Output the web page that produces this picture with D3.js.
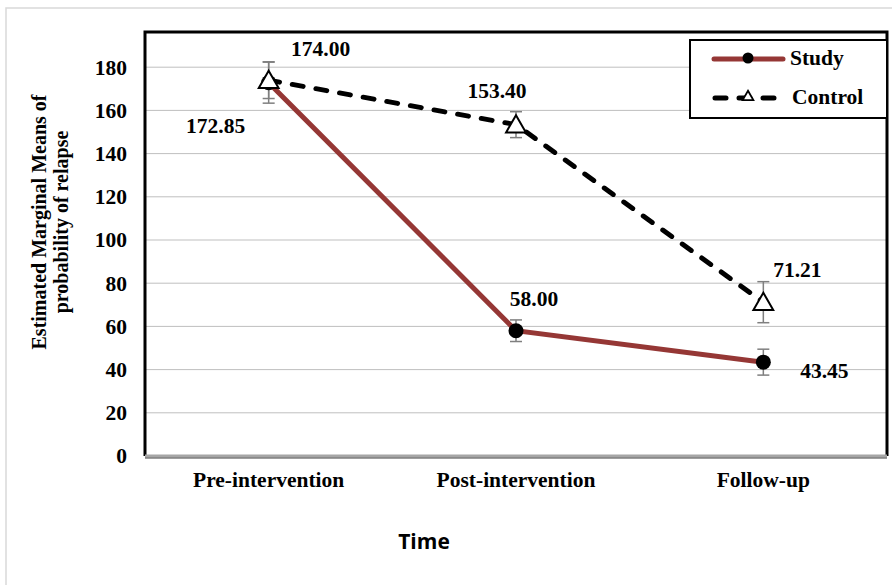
<!DOCTYPE html>
<html><head><meta charset="utf-8">
<script src="https://cdn.jsdelivr.net/npm/d3@7"></script>
<style>body{margin:0;background:#fff}svg{display:block}</style>
</head><body><svg id="c" width="892" height="585"></svg>
<script>
const categories = ["Pre-intervention", "Post-intervention", "Follow-up"];
const studyValues = [172.85, 58.00, 43.45];
const controlValues = [174.00, 153.40, 71.21];
const studyErr = [9.5, 5, 6];
const controlErr = [8.5, 6, 9.5];
const studyLabels = ["172.85", "58.00", "43.45"];
const controlLabels = ["174.00", "153.40", "71.21"];
const yTicks = [0, 20, 40, 60, 80, 100, 120, 140, 160, 180];

const svg = d3.select("#c");
const L = 145, R = 887, T = 32, B = 456;
const serif = "'Liberation Serif','Times New Roman',serif";
const FS = 21.5;

// outer frame
svg.append("path").attr("d", "M6,585 V8 H892").attr("fill", "none").attr("stroke", "#d9d9d9").attr("stroke-width", 1.5);

const x = d3.scaleBand().domain(categories).range([L, R]);
const cx = c => x(c) + x.bandwidth() / 2;
const y = d3.scaleLinear().domain([0, 180]).range([B, 67.2]);

// gridlines
svg.append("g").selectAll("line").data(yTicks.filter(d => d > 0)).join("line")
  .attr("x1", L).attr("x2", R).attr("y1", d => y(d)).attr("y2", d => y(d))
  .attr("stroke", "#bfbfbf").attr("stroke-width", 1);

// y axis labels
const yAxis = d3.axisLeft(y).tickValues(yTicks).tickSize(0).tickPadding(18).tickFormat(d3.format("d"));
const gy = svg.append("g").attr("transform", `translate(${L},0)`).call(yAxis);
gy.select(".domain").remove();
gy.selectAll("text").attr("font-family", serif).attr("font-weight", "bold").attr("font-size", FS).attr("fill", "#000");

// x axis labels
const xAxis = d3.axisBottom(x).tickSize(0).tickPadding(16);
const gx = svg.append("g").attr("transform", `translate(0,${B})`).call(xAxis);
gx.select(".domain").remove();
gx.selectAll("text").attr("font-family", serif).attr("font-weight", "bold").attr("font-size", FS).attr("fill", "#000");

// plot border
svg.append("path").attr("d", `M${L},${B} V${T} H${R} V${B}`).attr("fill", "none").attr("stroke", "#000").attr("stroke-width", 3);
svg.append("line").attr("x1", L).attr("x2", R).attr("y1", B).attr("y2", B).attr("stroke", "#a6a6a6").attr("stroke-width", 3);
svg.append("line").attr("x1", L).attr("x2", R).attr("y1", B + 2).attr("y2", B + 2).attr("stroke", "#404040").attr("stroke-width", 1);

// error bars
function errBars(vals, errs) {
  const g = svg.append("g").attr("stroke", "#7f7f7f").attr("stroke-width", 1.5);
  vals.forEach((v, i) => {
    const xx = cx(categories[i]);
    g.append("line").attr("x1", xx).attr("x2", xx).attr("y1", y(v - errs[i])).attr("y2", y(v + errs[i]));
    [v - errs[i], v + errs[i]].forEach(e => g.append("line").attr("x1", xx - 6).attr("x2", xx + 6).attr("y1", y(e)).attr("y2", y(e)));
  });
}
errBars(studyValues, studyErr);
errBars(controlValues, controlErr);

const line = d3.line().x((d, i) => cx(categories[i])).y(d => y(d));
const studyColor = "#953735";
svg.append("path").datum(studyValues).attr("d", line).attr("fill", "none").attr("stroke", studyColor).attr("stroke-width", 5);
svg.append("path").datum(controlValues).attr("d", line).attr("fill", "none").attr("stroke", "#000").attr("stroke-width", 5)
  .attr("stroke-dasharray", "11,13").attr("stroke-linecap", "round");

const tri = d3.symbol().type(d3.symbolTriangle).size(170);
svg.append("g").selectAll("circle").data(studyValues).join("circle")
  .attr("cx", (d, i) => cx(categories[i])).attr("cy", d => y(d)).attr("r", 7.5).attr("fill", "#000");
svg.append("g").selectAll("path").data(controlValues).join("path")
  .attr("d", tri).attr("transform", (d, i) => `translate(${cx(categories[i])},${y(d) + 2})`)
  .attr("fill", "#fff").attr("stroke", "#000").attr("stroke-width", 2);

// data labels
const lbl = (t, xx, yy) => svg.append("text").attr("x", xx).attr("y", yy).attr("text-anchor", "middle")
  .attr("font-family", serif).attr("font-weight", "bold").attr("font-size", FS).attr("fill", "#000").text(t);
lbl(controlLabels[0], cx(categories[0]) + 52, 56);
lbl(studyLabels[0], cx(categories[0]) - 53, 133);
lbl(controlLabels[1], cx(categories[1]) - 19, 98);
lbl(studyLabels[1], cx(categories[1]) + 18, 306);
lbl(controlLabels[2], cx(categories[2]) + 34, 277);
lbl(studyLabels[2], cx(categories[2]) + 61, 378);

// legend
const lg = svg.append("g");
lg.append("rect").attr("x", 690).attr("y", 40).attr("width", 197).attr("height", 78).attr("fill", "#fff").attr("stroke", "#000").attr("stroke-width", 2);
lg.append("line").attr("x1", 714).attr("x2", 783).attr("y1", 59).attr("y2", 59).attr("stroke", studyColor).attr("stroke-width", 5).attr("stroke-linecap", "round");
lg.append("circle").attr("cx", 748).attr("cy", 58).attr("r", 5.5).attr("fill", "#000");
lg.append("text").attr("x", 790).attr("y", 65).attr("font-family", serif).attr("font-weight", "bold").attr("font-size", FS).text("Study");
lg.append("line").attr("x1", 715).attr("x2", 782).attr("y1", 98).attr("y2", 98).attr("stroke", "#000").attr("stroke-width", 5)
  .attr("stroke-dasharray", "11,13").attr("stroke-linecap", "round");
lg.append("path").attr("d", d3.symbol().type(d3.symbolTriangle).size(50)).attr("transform", "translate(748,97)")
  .attr("fill", "#fff").attr("stroke", "#000").attr("stroke-width", 1.8);
lg.append("text").attr("x", 792).attr("y", 104).attr("font-family", serif).attr("font-weight", "bold").attr("font-size", FS).text("Control");

// axis titles
const yt = svg.append("text").attr("font-family", serif).attr("font-weight", "bold").attr("font-size", 20).attr("text-anchor", "middle");
yt.append("tspan").attr("x", 0).attr("y", 0).text("Estimated Marginal Means of");
yt.append("tspan").attr("x", 0).attr("y", 22).text("probability of relapse");
yt.attr("transform", "translate(46,222) rotate(-90)");
svg.append("text").attr("x", 424).attr("y", 549).attr("text-anchor", "middle").attr("font-family", "'Open Sans','Noto Sans',sans-serif")
  .attr("font-weight", "bold").attr("font-size", 21).text("Time");
</script></body></html>
